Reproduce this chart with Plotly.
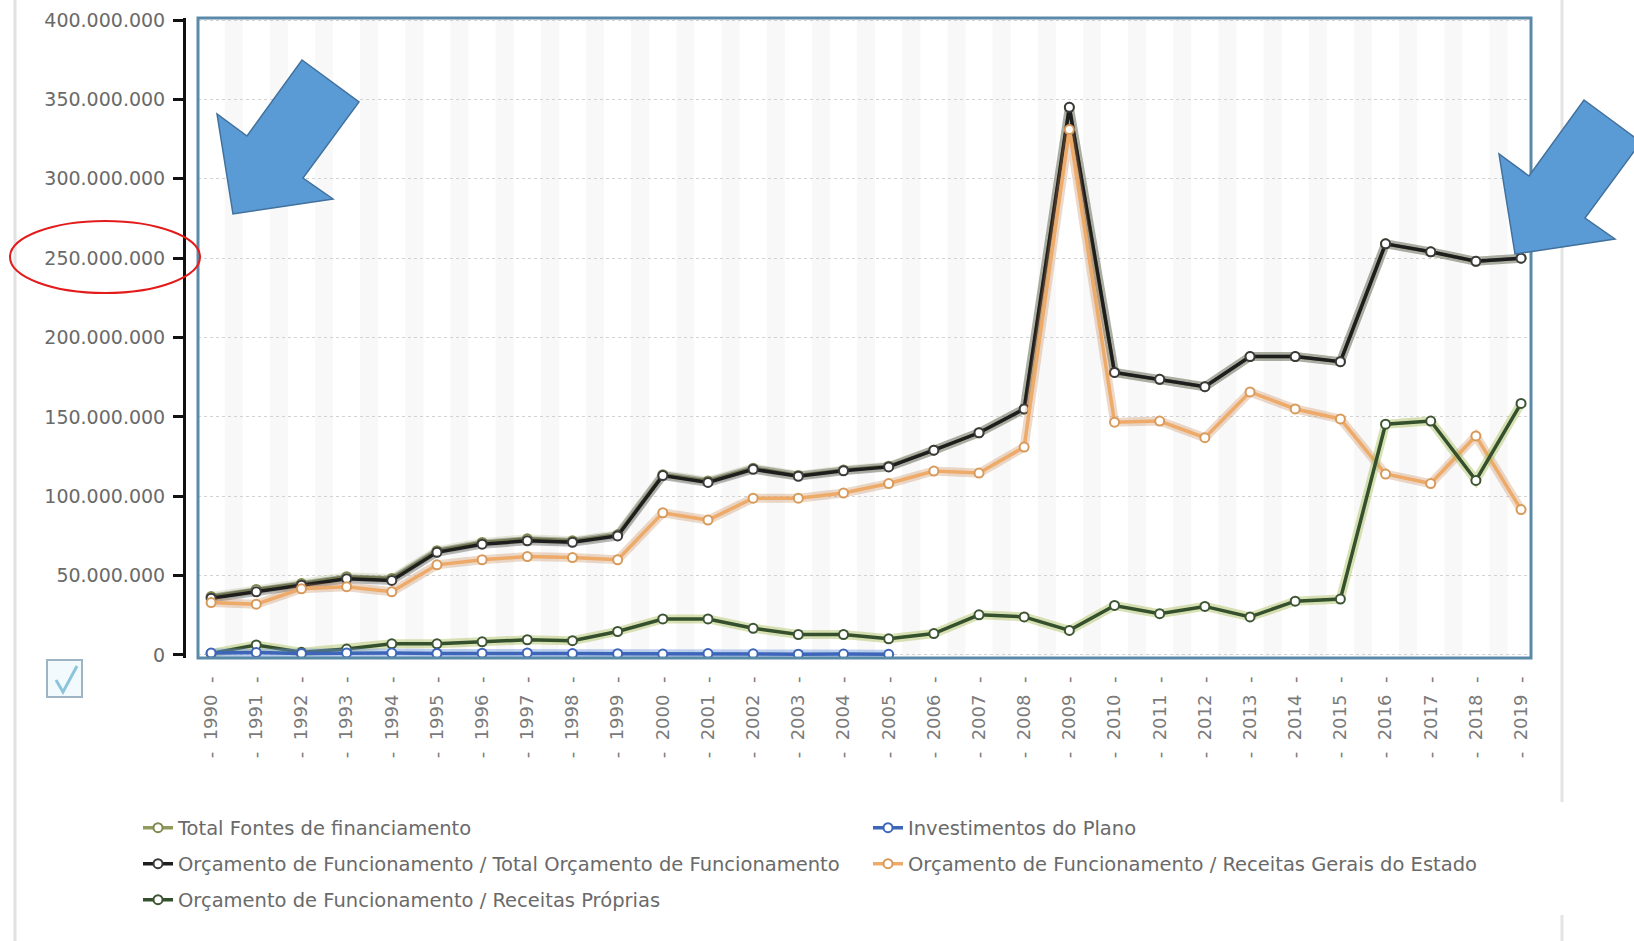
import plotly.graph_objects as go

W, H = 1634, 941

# ---------------- data ----------------
years = list(range(1990, 2020))
year_labels = ["-\u00a0\u00a0" + str(y) + "\u00a0\u00a0-" for y in years]

total_fontes = [36800000, 41300000, 45000000, 49300000, 48200000, 65700000, 70900000, 73200000,
                71900000, 75800000, 113600000, 109600000, 117700000, 113100000, 116600000, 118900000,
                129000000, 140000000, 155000000, 345000000, 178000000, 173700000, 169000000, 188000000,
                188000000, 184800000, 259000000, 254000000, 248000000, 250000000]

total_orcamento = [35800000, 39800000, 44000000, 48000000, 47000000, 64700000, 69800000, 71900000,
                   71000000, 75000000, 113000000, 108700000, 117000000, 112600000, 116000000, 118500000,
                   129000000, 140000000, 155000000, 345000000, 178000000, 173700000, 169000000, 188000000,
                   188000000, 184800000, 259000000, 254000000, 248000000, 250000000]

receitas_gerais = [33000000, 32000000, 41700000, 43000000, 39800000, 56800000, 60000000, 62000000,
                   61400000, 60000000, 89600000, 85000000, 98800000, 98800000, 102000000, 108000000,
                   115900000, 114600000, 131000000, 331000000, 146700000, 147400000, 136900000, 165700000,
                   155000000, 148700000, 114000000, 108000000, 138000000, 91600000]

receitas_proprias = [1000000, 6300000, 1700000, 3700000, 7000000, 7000000, 8300000, 9600000,
                     9000000, 14800000, 22700000, 22700000, 16800000, 12900000, 12900000, 10200000,
                     13500000, 25300000, 24000000, 15500000, 31200000, 26000000, 30600000, 24000000,
                     33900000, 35200000, 145400000, 147400000, 110000000, 158500000]

invest_years = list(range(1990, 2006))
investimentos = [1200000, 1500000, 1000000, 1300000, 1200000, 1000000, 1100000, 1300000,
                 900000, 800000, 600000, 900000, 700000, 500000, 600000, 400000]

y_ticks = [0, 50000000, 100000000, 150000000, 200000000, 250000000, 300000000, 350000000, 400000000]

names = {
    "tf": "Total Fontes de financiamento",
    "inv": "Investimentos do Plano",
    "to": "Orçamento de Funcionamento / Total Orçamento de Funcionamento",
    "rg": "Orçamento de Funcionamento / Receitas Gerais do Estado",
    "rp": "Orçamento de Funcionamento / Receitas Próprias",
}

# ---------------- helpers ----------------
def px(x):
    return x / W


def py(y):
    return 1 - y / H


FONT = "DejaVu Sans"
TXT = "#6a6a6a"

fig = go.Figure()


def add_series(x, y, name, core, halo, mk_line, legend, core_w=3.5):
    fig.add_trace(go.Scatter(x=x, y=y, mode="lines", line=dict(color=halo, width=9),
                             showlegend=False, hoverinfo="skip"))
    fig.add_trace(go.Scatter(x=x, y=y, name=name, mode="lines+markers",
                             line=dict(color=core, width=core_w),
                             marker=dict(size=9, color="white", line=dict(color=mk_line, width=2)),
                             legend=legend))


add_series(years, total_fontes, names["tf"], "#8f9a5c", "rgba(160,175,110,0.25)", "#7f8a50", "legend")
add_series(years, total_orcamento, names["to"], "#1e1e1e", "rgba(60,60,60,0.35)", "#3a3a3a", "legend3")
add_series(years, receitas_gerais, names["rg"], "#eeaa68", "rgba(190,120,60,0.28)", "#d89a5a", "legend4")
add_series(years, receitas_proprias, names["rp"], "#34502c", "rgba(170,190,90,0.45)", "#3d5535", "legend5")
add_series(invest_years, investimentos, names["inv"], "#3d65b8", "rgba(110,150,220,0.45)", "#3d65b8", "legend2")

# ---------------- shapes ----------------
shapes = []
# light vertical bands in plot
for yr in years:
    shapes.append(dict(type="rect", xref="x", yref="y domain", x0=yr + 0.3, x1=yr + 0.7, y0=0, y1=1,
                       fillcolor="#f8f8f8", line=dict(width=0), layer="below"))
# plot frame
shapes.append(dict(type="rect", xref="x domain", yref="y domain", x0=0, x1=1, y0=0, y1=1,
                   line=dict(color="#5a8aa8", width=3), layer="above"))
# page frame lines
shapes.append(dict(type="line", xref="paper", yref="paper", x0=px(15), x1=px(15), y0=0, y1=1,
                   line=dict(color="#e2e2e2", width=3)))
shapes.append(dict(type="line", xref="paper", yref="paper", x0=px(1562), x1=px(1562), y0=py(802), y1=1,
                   line=dict(color="#e4e4e4", width=3)))
shapes.append(dict(type="line", xref="paper", yref="paper", x0=px(1562), x1=px(1562), y0=0, y1=py(915),
                   line=dict(color="#e4e4e4", width=3)))
# checkbox
shapes.append(dict(type="rect", xref="paper", yref="paper", x0=px(47), x1=px(82), y0=py(697), y1=py(660),
                   fillcolor="#f2fafd", line=dict(color="#9fb4c2", width=2)))
shapes.append(dict(type="path", xref="paper", yref="paper",
                   path=f"M {px(56)},{py(680)} L {px(63)},{py(692)} L {px(77)},{py(666)}",
                   line=dict(color="#8cc4dc", width=3)))


# arrows
def arrow(tx, ty):
    pts = [(0, 0), (-16, -100), (14, -78), (69, -154), (126, -112), (70, -36), (100, -15)]
    p = " L ".join(f"{px(tx + dx)},{py(ty + dy)}" for dx, dy in pts)
    return dict(type="path", xref="paper", yref="paper", path="M " + p + " Z",
                fillcolor="#5b9bd5", line=dict(color="#41719c", width=1.5), layer="above")


shapes.append(arrow(233, 214))
shapes.append(arrow(1515, 254))
# red ellipse
shapes.append(dict(type="circle", xref="paper", yref="paper", x0=px(10), x1=px(200), y0=py(293), y1=py(221),
                   line=dict(color="#e31b1b", width=2), layer="above"))

legend_common = dict(bgcolor="rgba(0,0,0,0)", font=dict(family=FONT, size=19.5, color=TXT),
                     xanchor="left", yanchor="middle", itemwidth=30, orientation="h")

fig.update_layout(
    width=W, height=H,
    margin=dict(l=0, r=0, t=0, b=0, autoexpand=False),
    paper_bgcolor="white", plot_bgcolor="white",
    separators=",.",
    font=dict(family=FONT, color=TXT),
    shapes=shapes,
    xaxis=dict(domain=[px(198), px(1531)], range=[1989.71, 2019.22], tickmode="array",
               tickvals=years, ticktext=year_labels, tickangle=-90, showgrid=False, zeroline=False,
               showline=False, ticks="", ticklabelstandoff=14, automargin=False,
               tickfont=dict(family=FONT, size=18, color="#7a7a7a"), anchor="y"),
    yaxis=dict(domain=[py(658), py(18)], range=[-1900000, 401300000], anchor="free", position=px(184),
               tickmode="array", tickvals=y_ticks, tickformat=",d", showline=True, linecolor="#111",
               linewidth=3, ticks="outside", ticklen=10, tickwidth=3, tickcolor="#111",
               showgrid=True, gridcolor="#d2d2d2", griddash="dot", gridwidth=1, zeroline=False,
               ticklabelstandoff=4, automargin=False, tickfont=dict(family=FONT, size=19, color=TXT)),
    legend=dict(x=px(138), y=py(828), **legend_common),
    legend2=dict(x=px(868), y=py(828), **legend_common),
    legend3=dict(x=px(138), y=py(864), **legend_common),
    legend4=dict(x=px(868), y=py(864), **legend_common),
    legend5=dict(x=px(138), y=py(900), **legend_common),
    showlegend=True,
)

fig.write_html("out.html")
